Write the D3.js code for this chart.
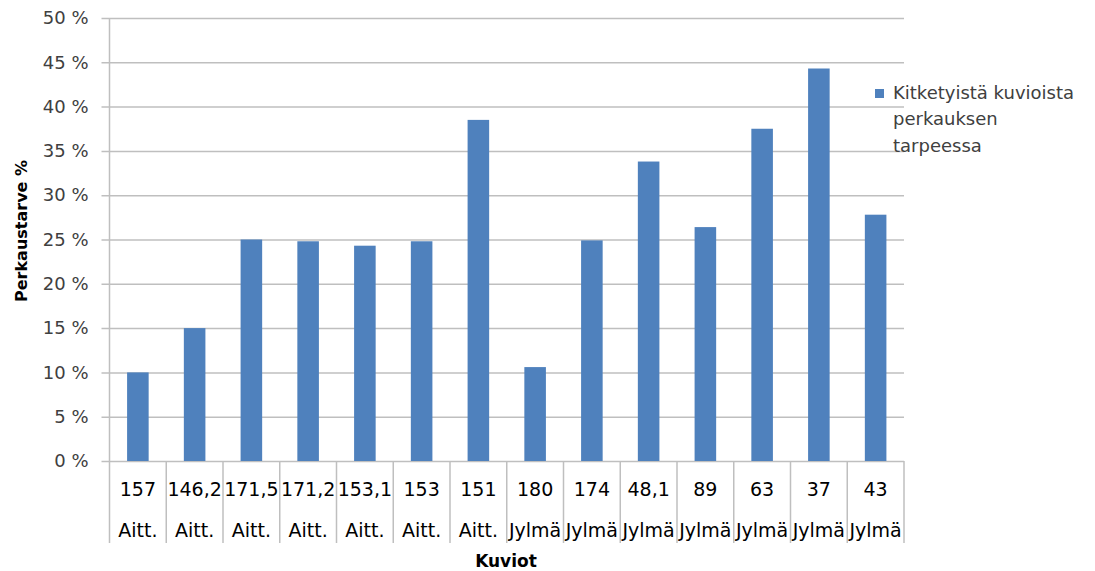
<!DOCTYPE html>
<html>
<head>
<meta charset="utf-8">
<script src="https://cdn.jsdelivr.net/npm/d3@7"></script>
<style>
  body { margin: 0; background: #fff; }
  text { font-family: "DejaVu Sans", sans-serif; }
</style>
</head>
<body>
<div id="outer"></div>
<script>
// chart data
const kuviot = ['157', '146,2', '171,5', '171,2', '153,1', '153', '151', '180', '174', '48,1', '89', '63', '37', '43'];
const ryhmat = ['Aitt.', 'Aitt.', 'Aitt.', 'Aitt.', 'Aitt.', 'Aitt.', 'Aitt.', 'Jylmä', 'Jylmä', 'Jylmä', 'Jylmä', 'Jylmä', 'Jylmä', 'Jylmä'];
const perkaustarve = [10.0, 15.0, 25.0, 24.8, 24.3, 24.8, 38.5, 10.6, 24.9, 33.8, 26.4, 37.5, 44.3, 27.8];
const yTicks = [0, 5, 10, 15, 20, 25, 30, 35, 40, 45, 50];
const legendLines = ['Kitketyistä kuvioista', 'perkauksen', 'tarpeessa'];

const width = 1095, height = 571;
const plot = { left: 109.5, right: 904, top: 18, bottom: 461 };
const barColor = '#4F81BD';
const gridColor = '#BFBFBF';
const textColor = '#404040';

const svg = d3.select('#outer').append('svg')
  .attr('width', width)
  .attr('height', height);

const idx = d3.range(perkaustarve.length);

const x = d3.scaleBand()
  .domain(idx)
  .range([plot.left, plot.right])
  .paddingInner(0.62)
  .paddingOuter(0.31);

const y = d3.scaleLinear()
  .domain([0, 50])
  .range([plot.bottom, plot.top]);

// gridlines + y tick labels
const yAxis = svg.append('g')
  .attr('transform', `translate(${plot.left},0)`)
  .call(d3.axisLeft(y)
    .tickValues(yTicks)
    .tickSize(-(plot.right - plot.left))
    .tickFormat(d => d + ' %'));

yAxis.select('.domain').remove();
yAxis.selectAll('.tick line')
  .attr('x1', -8)
  .attr('stroke', gridColor)
  .attr('stroke-width', 1.5);
yAxis.selectAll('.tick text')
  .attr('x', -21)
  .attr('fill', textColor)
  .style('font-family', '"DejaVu Sans", sans-serif')
  .style('font-size', '18px');

// vertical axis line
svg.append('line')
  .attr('x1', plot.left).attr('x2', plot.left)
  .attr('y1', plot.top).attr('y2', plot.bottom)
  .attr('stroke', gridColor)
  .attr('stroke-width', 1.5);

// bars
svg.append('g')
  .selectAll('rect')
  .data(perkaustarve)
  .join('rect')
  .attr('x', (d, i) => x(i))
  .attr('width', x.bandwidth())
  .attr('y', d => y(d))
  .attr('height', d => y(0) - y(d))
  .attr('fill', barColor);

// category table below the axis
const bounds = d3.range(perkaustarve.length + 1).map(i => plot.left + i * (plot.right - plot.left) / perkaustarve.length);
svg.append('g')
  .selectAll('line')
  .data(bounds)
  .join('line')
  .attr('x1', d => d).attr('x2', d => d)
  .attr('y1', plot.bottom).attr('y2', 543)
  .attr('stroke', gridColor)
  .attr('stroke-width', 1.5);

const catCenter = i => x(i) + x.bandwidth() / 2;

svg.append('g')
  .selectAll('text')
  .data(kuviot)
  .join('text')
  .attr('x', (d, i) => catCenter(i))
  .attr('y', 496)
  .attr('text-anchor', 'middle')
  .attr('fill', 'black')
  .style('font-size', '19px')
  .text(d => d);

svg.append('g')
  .selectAll('text')
  .data(ryhmat)
  .join('text')
  .attr('x', (d, i) => catCenter(i))
  .attr('y', 537)
  .attr('text-anchor', 'middle')
  .attr('fill', 'black')
  .style('font-size', '19px')
  .text(d => d);

// axis titles
svg.append('text')
  .attr('transform', 'translate(27,231) rotate(-90)')
  .attr('text-anchor', 'middle')
  .style('font-size', '16px')
  .style('font-weight', 'bold')
  .text('Perkaustarve %');

svg.append('text')
  .attr('x', 506)
  .attr('y', 567)
  .attr('text-anchor', 'middle')
  .style('font-size', '17px')
  .style('font-weight', 'bold')
  .text('Kuviot');

// legend
const legend = svg.append('g').attr('transform', 'translate(875,89)');
legend.append('rect')
  .attr('width', 9).attr('height', 9)
  .attr('fill', barColor);
legend.selectAll('text')
  .data(legendLines)
  .join('text')
  .attr('x', 18)
  .attr('y', (d, i) => 9.5 + i * 26.7)
  .attr('fill', textColor)
  .style('font-size', '18px')
  .text(d => d);
</script>
</body>
</html>
